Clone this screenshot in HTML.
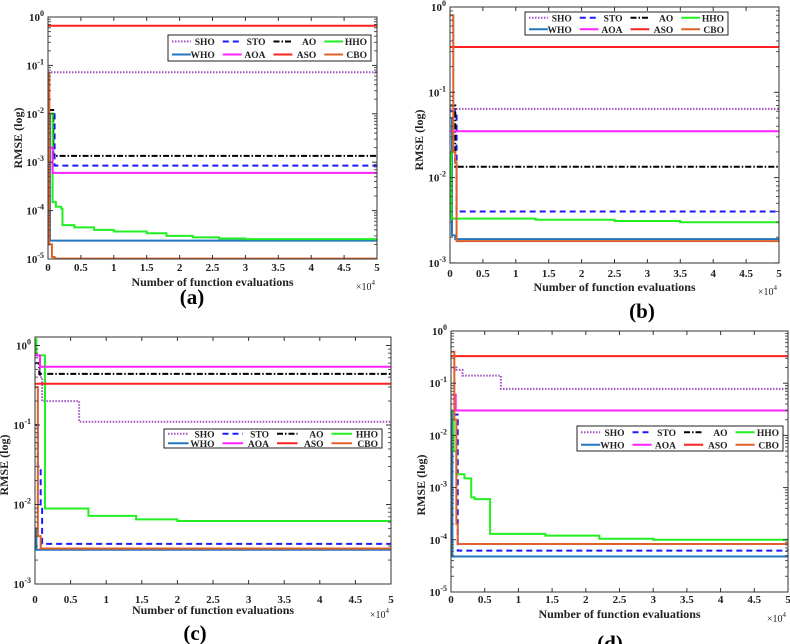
<!DOCTYPE html>
<html><head><meta charset="utf-8">
<style>
html,body{margin:0;padding:0;background:#fff;}
svg{display:block;font-family:"Liberation Serif",serif;}
</style></head>
<body>
<svg id="fig" width="790" height="644" viewBox="0 0 790 644" xmlns="http://www.w3.org/2000/svg"></svg>
<script>
// ---- data (x in units of 1e4 evaluations, y = RMSE) ----
const seriesNames = ["SHO","STO","AO","WHO","HHO","AOA","ASO","CBO"];
const legendOrder = ["SHO","STO","AO","HHO","WHO","AOA","ASO","CBO"];
const xTicks = [0,0.5,1,1.5,2,2.5,3,3.5,4,4.5,5];
const xTickLabels = ["0","0.5","1","1.5","2","2.5","3","3.5","4","4.5","5"];

// Panel (a)
const a_SHO = [[0,0.072],[5,0.072]];
const a_STO = [[0,0.012],[0.1,0.00085],[5,0.00085]];
const a_AO  = [[0,0.012],[0.08,0.00135],[5,0.00135]];
const a_HHO = [[0,0.01],[0.07,0.00015],[0.12,0.00012],[0.2,0.00011],[0.22,0.00005],[0.4,0.000045],[0.7,0.00004],[1.0,0.000037],[1.5,0.000034],[1.8,0.00003],[2.2,0.000028],[2.6,0.0000265],[3.0,0.0000258],[5,0.0000258]];
const a_WHO = [[0,0.01],[0.03,0.000024],[5,0.000024]];
const a_AOA = [[0,0.002],[0.07,0.0006],[5,0.0006]];
const a_ASO = [[0,0.66],[5,0.66]];
const a_CBO = [[0,0.07],[0.02,0.00002],[0.06,0.000011],[0.1,0.0000102],[5,0.0000102]];

// Panel (b)
const b_SHO = [[0,0.064],[5,0.064]];
const b_STO = [[0,0.06],[0.1,0.004],[5,0.004]];
const b_AO  = [[0,0.07],[0.08,0.0134],[5,0.0134]];
const b_HHO = [[0,0.02],[0.02,0.0033],[1.2,0.0033],[1.3,0.0032],[2.4,0.0032],[2.5,0.0031],[3.5,0.003],[5,0.003]];
const b_WHO = [[0,0.05],[0.03,0.0021],[0.08,0.0019],[5,0.0019]];
const b_AOA = [[0,0.035],[5,0.035]];
const b_ASO = [[0,0.34],[5,0.34]];
const b_CBO = [[0,0.8],[0.05,0.02],[0.08,0.015],[0.1,0.0018],[5,0.0018]];

// Panel (c)
const c_SHO = [[0,0.75],[0.07,0.4],[0.1,0.2],[0.62,0.11],[5,0.11]];
const c_STO = [[0,0.1],[0.04,0.03],[0.08,0.01],[0.1,0.0032],[5,0.0032]];
const c_AO  = [[0,0.6],[0.06,0.44],[5,0.44]];
const c_HHO = [[0,1.2],[0.02,0.75],[0.14,0.0089],[0.75,0.0072],[1.42,0.0065],[2.0,0.0062],[5,0.0062]];
const c_WHO = [[0,0.005],[0.02,0.0027],[5,0.0027]];
const c_AOA = [[0,0.75],[0.07,0.54],[5,0.54]];
const c_ASO = [[0,0.33],[5,0.33]];
const c_CBO = [[0,0.3],[0.04,0.004],[0.08,0.0028],[5,0.0028]];

// Panel (d)
const d_SHO = [[0.02,0.2],[0.08,0.18],[0.17,0.14],[0.74,0.078],[5,0.078]];
const d_STO = [[0.02,0.025],[0.08,0.025],[0.1,0.000062],[5,0.000062]];
const d_AO  = [[0,0.03],[5,0.03]];
const d_HHO = [[0,0.03],[0.04,0.005],[0.08,0.0018],[0.2,0.0015],[0.3,0.00065],[0.35,0.0006],[0.58,0.00013],[1.4,0.00012],[2.2,0.000105],[3.0,0.0001],[5,0.0001]];
const d_WHO = [[0,0.03],[0.02,0.000048],[5,0.000048]];
const d_AOA = [[0.02,0.06],[0.07,0.03],[5,0.03]];
const d_ASO = [[0,0.33],[5,0.33]];
const d_CBO = [[0,0.4],[0.05,0.02],[0.08,0.0002],[0.1,0.000083],[5,0.000083]];

// ---- styling ----
const styles = {
  SHO:{c:"#a050c0",d:"1.5,1.5"}, STO:{c:"#1a1aff",d:"6,4"}, AO:{c:"#000",d:"6,2,1.5,2"},
  HHO:{c:"#22ee22",d:""}, WHO:{c:"#2277c0",d:""}, AOA:{c:"#ff22ff",d:""},
  ASO:{c:"#ff2020",d:""}, CBO:{c:"#e0602a",d:""}
};
const NS="http://www.w3.org/2000/svg";
const svg=document.getElementById("fig");
function mk(tag,attrs,parent){const e=document.createElementNS(NS,tag);for(const k in attrs)e.setAttribute(k,attrs[k]);(parent||svg).appendChild(e);return e;}

function drawPanel(p, data){
  const g=mk("g",{});
  
  
  const L=p.x0,R=p.x1,T=p.yTop,B=p.yBot;
  const sx=v=>L+(v/5)*(R-L);
  const sy=v=>p.y0+(-Math.log10(v))*p.dec;
  const clipId="clip"+p.id;
  const cp=mk("clipPath",{id:clipId},g); mk("rect",{x:L,y:T,width:R-L,height:B-T},cp);
  const sg=mk("g",{"clip-path":"url(#"+clipId+")"},g);
  seriesNames.forEach(n=>{
    const pts=data[n]; let d="M"+sx(pts[0][0])+","+sy(pts[0][1]);
    for(let i=1;i<pts.length;i++){d+=" H"+sx(pts[i][0])+" V"+sy(pts[i][1]);}
    const path=mk("path",{d:d,fill:"none",stroke:styles[n].c,"stroke-width":2,"stroke-dasharray":styles[n].d},sg);
    
    
  });
  xTicks.forEach((t,i)=>{
    const x=sx(t);
    mk("line",{x1:x,x2:x,y1:B,y2:B-4,stroke:"#333"},g);
    mk("line",{x1:x,x2:x,y1:T,y2:T+4,stroke:"#333"},g);
    const tx=mk("text",{x:x,y:p.xtY,"font-size":11,"font-weight":"bold","text-anchor":"middle",fill:"#222"},g);
    tx.textContent=xTickLabels[i];
    
    
  });
  for(let e=p.eMin;e<=p.eMax;e++){
    const y=sy(Math.pow(10,e));
    if(y>=T-0.5&&y<=B+0.5){
      mk("line",{x1:L,x2:L+5,y1:y,y2:y,stroke:"#333"},g);
      mk("line",{x1:R,x2:R-5,y1:y,y2:y,stroke:"#333"},g);
      const tt=mk("text",{x:L-4,y:y+4,"font-size":11,"font-weight":"bold","text-anchor":"end",fill:"#222"},g);
      
      
      const a=mk("tspan",{},tt);a.textContent="10";
      const b=mk("tspan",{dy:-5,"font-size":8},tt);b.textContent=String(e);
    }
    for(let m=2;m<10;m++){
      const ym=sy(m*Math.pow(10,e));
      if(ym>=T&&ym<=B){
        mk("line",{x1:L,x2:L+3,y1:ym,y2:ym,stroke:"#555"},g);
        mk("line",{x1:R,x2:R-3,y1:ym,y2:ym,stroke:"#555"},g);
      }
    }
  }
  const box=mk("rect",{x:L,y:T,width:R-L,height:B-T,fill:"none",stroke:"#333","stroke-width":1},g);
  
  
  const xl=mk("text",{x:(L+R)/2,y:p.xlY,"font-size":12,"font-weight":"bold","text-anchor":"middle",fill:"#222"},g);
  xl.textContent="Number of function evaluations";
  
  
  const xm=mk("text",{x:R-2,y:p.xlY+4,"font-size":10,"text-anchor":"end",fill:"#222"},g);
  
  
  const m1=mk("tspan",{},xm);m1.textContent="×10";
  const m2=mk("tspan",{dy:-5,"font-size":7},xm);m2.textContent="4";
  const yl=mk("text",{x:0,y:0,"font-size":12,"font-weight":"bold","text-anchor":"middle",fill:"#222",transform:"translate("+p.ylX+","+p.ylY+") rotate(-90)"},g);
  yl.textContent="RMSE (log)";
  
  
  const cap=mk("text",{x:p.capX,y:p.capY,"font-size":21,"font-weight":"bold","text-anchor":"middle",fill:"#000"},g);
  cap.textContent="("+p.id+")";
  
  
  const lg=mk("g",{},g);
  
  
  mk("rect",{x:p.lx0,y:p.ly0,width:p.lx1-p.lx0,height:p.ly1-p.ly0,fill:"#fff",stroke:"#222","stroke-width":1},lg);
  const cw=(p.lx1-p.lx0)/4, rh=(p.ly1-p.ly0)/2;
  legendOrder.forEach((n,i)=>{
    const cx=p.lx0+(i%4)*cw, cy=p.ly0+Math.floor(i/4)*rh+rh/2;
    const ln=mk("line",{x1:cx+4,x2:cx+cw*0.45,y1:cy,y2:cy,stroke:styles[n].c,"stroke-width":2,"stroke-dasharray":styles[n].d},lg);
    
    
    const t=mk("text",{x:cx+cw-4,y:cy+3.5,"font-size":9.5,"font-weight":"bold","text-anchor":"end",fill:"#222"},lg);
    t.textContent=n;
    
    
  });
}

drawPanel({id:"a",x0:48,x1:377,yTop:17,yBot:259,y0:17,dec:48.4,eMin:-5,eMax:0,xtY:271,xlY:286,ylX:22,ylY:138,capX:192,capY:304,lx0:168,lx1:371,ly0:35,ly1:61},
 {SHO:a_SHO,STO:a_STO,AO:a_AO,HHO:a_HHO,WHO:a_WHO,AOA:a_AOA,ASO:a_ASO,CBO:a_CBO});
drawPanel({id:"b",x0:450,x1:779,yTop:7,yBot:263,y0:7,dec:85.3,eMin:-3,eMax:0,xtY:277,xlY:291,ylX:423,ylY:140,capX:642,capY:318,lx0:525,lx1:728,ly0:12,ly1:35},
 {SHO:b_SHO,STO:b_STO,AO:b_AO,HHO:b_HHO,WHO:b_WHO,AOA:b_AOA,ASO:b_ASO,CBO:b_CBO});
drawPanel({id:"c",x0:35,x1:391,yTop:337,yBot:584,y0:345.5,dec:79.5,eMin:-3,eMax:0,xtY:603,xlY:614,ylX:8,ylY:465,capX:195,capY:640,lx0:164,lx1:382,ly0:429,ly1:448},
 {SHO:c_SHO,STO:c_STO,AO:c_AO,HHO:c_HHO,WHO:c_WHO,AOA:c_AOA,ASO:c_ASO,CBO:c_CBO});
drawPanel({id:"d",x0:451,x1:788,yTop:331,yBot:592,y0:331,dec:52.2,eMin:-5,eMax:0,xtY:603,xlY:618,ylX:425,ylY:485,capX:610,capY:650,lx0:577,lx1:783,ly0:426,ly1:451},
 {SHO:d_SHO,STO:d_STO,AO:d_AO,HHO:d_HHO,WHO:d_WHO,AOA:d_AOA,ASO:d_ASO,CBO:d_CBO});
</script>
</body></html>
